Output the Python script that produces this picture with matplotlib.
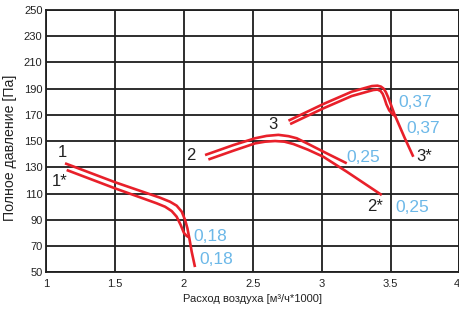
import matplotlib
matplotlib.use("Agg")
import matplotlib.pyplot as plt

plt.rcParams['font.family'] = ['Liberation Sans Narrow', 'Liberation Sans', 'DejaVu Sans']

# Fan curves (air flow, thousand m3/h; total pressure, Pa)
c1_x = [1.138, 1.503, 1.827, 1.900, 1.948, 1.985, 2.009, 2.026, 2.040, 2.057, 2.081]
c1_y = [133.1, 118.6, 106.9, 103.8, 100.8, 96.2, 89.9, 83.5, 75.9, 65.7, 54.0]
c1s_x = [1.150, 1.501, 1.803, 1.864, 1.912, 1.948, 1.977, 2.001, 2.020, 2.035]
c1s_y = [128.0, 114.0, 102.6, 100.0, 96.7, 92.4, 86.1, 80.0, 77.8, 76.8]

c2_x = [2.154, 2.359, 2.517, 2.600, 2.686, 2.760, 2.819, 2.900, 3.012, 3.182]
c2_y = [139.4, 147.0, 152.2, 154.0, 154.8, 153.8, 152.2, 148.0, 142.0, 133.1]
c2s_x = [2.178, 2.359, 2.517, 2.590, 2.662, 2.730, 2.795, 2.900, 3.012, 3.182, 3.436]
c2s_y = [136.0, 142.7, 148.3, 149.6, 150.1, 149.6, 147.8, 143.5, 138.1, 126.7, 108.9]

c3_x = [2.759, 3.012, 3.218, 3.364, 3.405, 3.430, 3.450, 3.466, 3.482, 3.500, 3.530, 3.600, 3.665]
c3_y = [165.6, 178.3, 187.7, 192.0, 192.3, 191.6, 190.0, 187.3, 183.5, 178.5, 170.0, 153.0, 138.1]
c3s_x = [2.771, 3.012, 3.218, 3.375, 3.405, 3.427, 3.443, 3.456, 3.470, 3.490, 3.515, 3.540]
c3s_y = [163.0, 175.0, 184.4, 189.0, 189.3, 188.3, 186.0, 182.5, 178.0, 173.5, 170.5, 168.6]

curves = [(c1_x, c1_y), (c1s_x, c1s_y), (c2_x, c2_y), (c2s_x, c2s_y),
          (c3_x, c3_y), (c3s_x, c3s_y)]

# Curve names and power labels
name_text = ['1', '1*', '2', '2*', '3', '3*']
name_x = [1.12, 1.10, 2.053, 3.387, 2.644, 3.747]
name_y = [141.0, 119.5, 139.0, 99.8, 163.0, 138.0]

power_text = ['0,18', '0,18', '0,25', '0,25', '0,37', '0,37']
power_x = [2.067, 2.110, 3.177, 3.533, 3.554, 3.617]
power_y = [77.0, 59.4, 137.5, 99.4, 179.5, 159.3]

x_ticks = [1, 1.5, 2, 2.5, 3, 3.5, 4]
x_tick_labels = ['1', '1.5', '2', '2.5', '3', '3.5', '4']
y_ticks = [50, 70, 90, 110, 130, 150, 170, 190, 210, 230, 250]

fig = plt.figure(figsize=(4.6, 3.14), dpi=100)
ax = fig.add_axes([46 / 460, 1 - 272.3 / 314, 413.5 / 460, 262.3 / 314])

red = '#e8202a'
blue = '#6cb8e8'
for xs, ys in curves:
    ax.plot(xs, ys, color=red, lw=1.9, solid_joinstyle='round',
            solid_capstyle='butt', zorder=3)

for t, x, y in zip(name_text, name_x, name_y):
    ax.text(x, y, t, ha='center', va='center', fontsize=12, color='#222222', zorder=4)
for t, x, y in zip(power_text, power_x, power_y):
    ax.text(x, y, t, ha='left', va='center', fontsize=12.5, color=blue, zorder=4)

ax.set_xlim(1, 4)
ax.set_ylim(50, 250)
ax.set_xticks(x_ticks)
ax.set_xticklabels(x_tick_labels)
ax.set_yticks(y_ticks)
ax.tick_params(length=0, labelsize=8, colors='#222222')
ax.tick_params(axis='x', pad=5)
ax.tick_params(axis='y', pad=2.5)
ax.get_xticklabels()[-1].set_ha('right')
ax.grid(True, color='#1e1e1e', lw=1.3)
ax.set_axisbelow(True)
for s in ax.spines.values():
    s.set_color('#1e1e1e')
    s.set_linewidth(1.3)

ax.set_xlabel('Расход воздуха [м³/ч*1000]', fontsize=8, color='#222222')
ax.xaxis.set_label_coords(0.5, -0.083)
ax.set_ylabel('Полное давление [Па]', fontsize=10.2, color='#222222')
ax.yaxis.set_label_coords(-0.070, 0.476)

fig.savefig('out.png', dpi=100)
